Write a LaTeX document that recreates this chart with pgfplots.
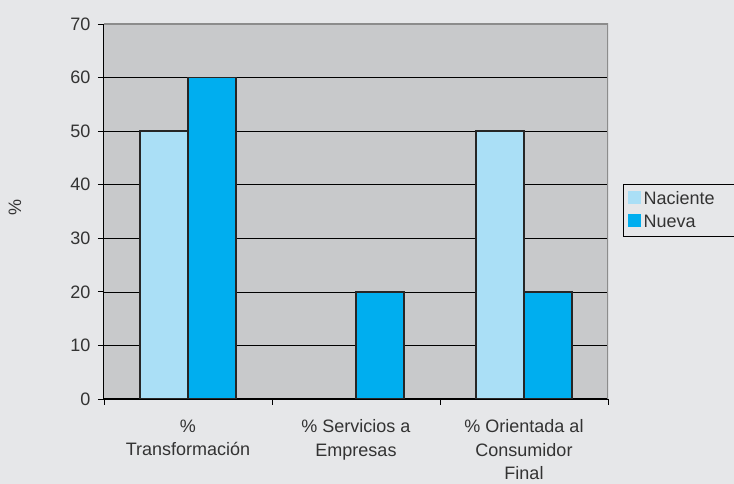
\documentclass[border=0pt]{standalone}
\usepackage{pgfplots}
\pgfplotsset{compat=1.18}
\usepackage{fontspec}
\setmainfont{Liberation Sans}
\definecolor{bg}{HTML}{E6E7E9}
\definecolor{plotbg}{HTML}{C8C9CB}
\definecolor{lightblue}{HTML}{AADFF6}
\definecolor{darkblue}{HTML}{00AEEF}
\definecolor{txt}{HTML}{333333}
\begin{document}
\begin{tikzpicture}
\fill[bg] (-104pt,-85pt) rectangle (630pt,399pt);
\begin{axis}[
  at={(0,0)}, anchor=south west,
  scale only axis, width=504pt, height=375pt,
  ybar=0pt, bar width=48pt,
  xmin=-0.5, xmax=2.5, ymin=0, ymax=70,
  ytick={0,10,...,70},
  xtick={0,1,2},
  xticklabels={{\%\\Transformación},{\% Servicios a\\Empresas},{\% Orientada al\\Consumidor\\Final}},
  minor xtick={-0.5,0.5,1.5,2.5},
  major x tick style={draw=none},
  major tick length=6pt, minor tick length=6pt,
  tick align=outside,
  tick style={black, line width=0.8pt},
  axis x line*=bottom, axis y line*=left,
  axis line style={black, line width=1pt},
  axis background/.style={fill=plotbg},
  ymajorgrids, grid style={black, line width=0.7pt},
  /pgf/number format/assume math mode=true,
  tick label style={font=\fontsize{18}{23.5}\selectfont, text=txt},
  xticklabel style={align=center, yshift=-11pt},
  yticklabel style={xshift=-4pt},
  ylabel={\%},
  every axis y label/.style={at={(axis description cs:0,0.51)}, xshift=-89pt, rotate=90, anchor=center, font=\fontsize{18}{20}\selectfont, text=txt},
  legend style={at={(axis description cs:1.0298,0.573)}, anchor=north west, draw=black, line width=1pt, fill=bg,
    font=\fontsize{18}{20}\selectfont, text=txt, inner xsep=4pt, inner ysep=5pt, row sep=5pt,
    nodes={inner sep=2pt}},
  legend image code/.code={\fill[#1, draw=none] (0pt,-5pt) rectangle (13pt,8pt);},
  legend cell align=left,
]
\addplot[fill=lightblue, draw=black!85, line width=1.3pt] coordinates {(0,50) (2,50)};
\addplot[fill=darkblue, draw=black!85, line width=1.3pt] coordinates {(0,60) (1,20) (2,20)};
\legend{\makebox[100pt][l]{\hspace{1pt}Naciente}, \hspace{1pt}Nueva}
\draw[black!45, line width=1.5pt] (rel axis cs:0,1) -- (rel axis cs:1,1) -- (rel axis cs:1,0);
\end{axis}
\pgfresetboundingbox
\useasboundingbox (-104pt,-85pt) rectangle (630pt,399pt);
\end{tikzpicture}
\end{document}
